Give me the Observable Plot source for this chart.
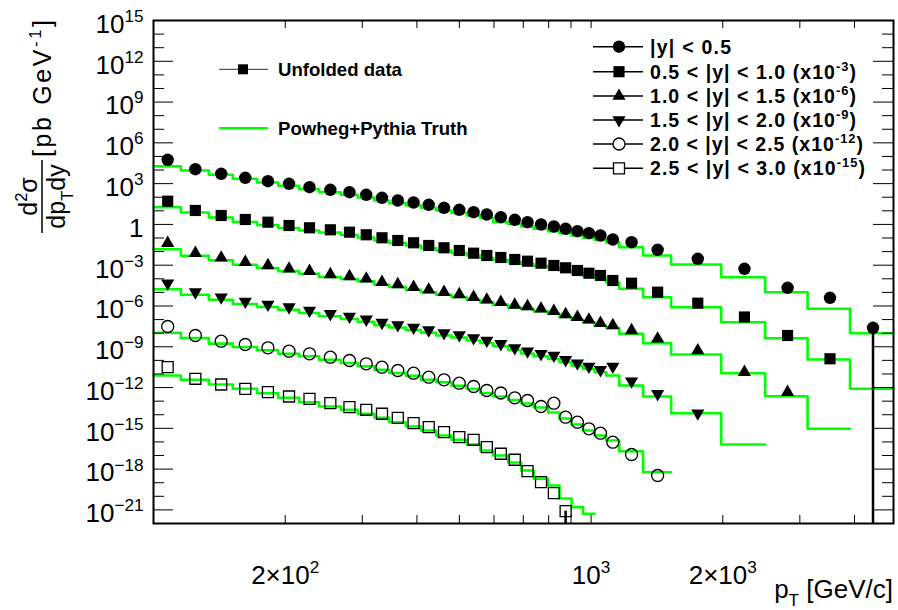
<!DOCTYPE html>
<html><head><meta charset="utf-8">
<script src="https://cdn.jsdelivr.net/npm/d3@7"></script>
<script src="https://cdn.jsdelivr.net/npm/@observablehq/plot@0.6"></script>
<style>
body{margin:0;background:#fff;}
svg text{font-family:"Liberation Sans",Arial,Helvetica,sans-serif;}
</style></head><body><div id="chart"></div>
<script>
// ---- data ----
const ptEdges = [100, 115.5, 133.8, 151.8, 172.4, 192.8, 215.3, 239.2, 268, 292.9, 319.8, 345.8, 377.5, 408.5, 442.7, 479.8, 519.9, 558, 597.5, 646.4, 692.2, 739.4, 797.6, 846.9, 902.5, 958.8, 1018.8, 1082.7, 1160, 1315, 1524, 1983, 2500, 3125, 3907, 4911];

const seriesNames = ["|y| < 0.5", "0.5 < |y| < 1.0", "1.0 < |y| < 1.5", "1.5 < |y| < 2.0", "2.0 < |y| < 2.5", "2.5 < |y| < 3.0"];
const scaleExponents = [0, -3, -6, -9, -12, -15];

const data0 = [5.68e4, 1.15e4, 5.30e3, 2.69e3, 1.51e3, 973, 547, 352, 234, 151, 90.8, 57.5, 41.0, 27.8, 16.7, 11.9, 7.93, 5.37, 3.40, 2.19, 1.46, 0.986, 0.703, 0.476, 0.317, 0.226, 0.153, 0.0778, 0.0492, 0.0136, 2.96e-3, 5.43e-4, 2.18e-5, 4.01e-6, 2.49e-8];
const data1 = [5.11e4, 1.06e4, 4.54e3, 2.31e3, 1.46e3, 834, 565, 403, 268, 173, 104, 65.8, 44.6, 28.2, 19.1, 12.1, 7.66, 5.18, 3.69, 2.63, 1.97, 1.41, 0.953, 0.645, 0.408, 0.258, 0.175, 0.0750, 0.0475, 0.0104, 1.61e-3, 1.55e-4, 6.76e-6, 1.31e-7, null];
const data2 = [4.16e4, 7.66e3, 3.51e3, 1.67e3, 953, 545, 363, 208, 148, 100, 56.4, 38.2, 24.2, 15.6, 10.4, 7.01, 4.44, 2.86, 1.90, 1.19, 0.919, 0.622, 0.415, 0.237, 0.150, 0.0966, 0.0543, 0.0368, 0.0158, 3.86e-3, 5.32e-4, 1.35e-5, 4.56e-7, null, null];
const data3 = [4.75e4, 1.04e4, 4.44e3, 2.14e3, 1.29e3, 817, 467, 267, 169, 105, 59.2, 40.0, 26.2, 16.6, 10.3, 7.36, 4.43, 2.90, 1.66, 0.813, 0.473, 0.305, 0.229, 0.110, 0.0619, 0.0355, 0.0203, 0.0355, 2.94e-3, 3.48e-4, 1.30e-5, null, null, null, null];
const data4 = [3.10e4, 6.76e3, 2.58e3, 1.47e3, 841, 473, 305, 171, 97.9, 56.0, 31.5, 18.0, 11.4, 5.79, 3.72, 2.09, 1.20, 0.608, 0.398, 0.177, 0.112, 0.0405, 0.0708, 6.61e-3, 2.83e-3, 9.27e-4, 4.40e-4, 9.57e-5, 1.19e-5, 3.40e-7, null, null, null, null, null];
const data5 = [3.15e4, 4.42e3, 1.68e3, 811, 456, 220, 149, 70.8, 36.0, 23.2, 11.8, 5.97, 2.39, 1.22, 0.521, 0.224, 0.144, 0.0411, 0.0135, 4.88e-3, 7.06e-4, 1.10e-4, 1.70e-5, 8.07e-7, null, null, null, null, null, null, null, null, null, null, null];

const truth0 = [1.92e4, 9.26e3, 4.47e3, 2.27e3, 1.21e3, 694, 390, 234, 151, 95.5, 57.5, 36.4, 24.7, 16.7, 10.6, 7.16, 4.54, 3.08, 1.51, 1.08, 0.703, 0.476, 0.317, 0.226, 0.153, 0.104, 0.0740, 0.0492, 0.0211, 5.17e-3, 1.13e-3, 1.31e-4, 1.03e-5, 6.22e-7, 9.98e-9];
const truth1 = [1.85e4, 7.53e3, 3.24e3, 1.51e3, 908, 546, 357, 255, 167, 109, 65.8, 43.1, 28.2, 18.5, 12.1, 7.91, 5.18, 3.39, 2.42, 1.72, 1.23, 0.875, 0.624, 0.408, 0.267, 0.175, 0.115, 0.0535, 0.0184, 4.44e-3, 8.15e-4, 6.43e-5, 4.28e-6, 1.16e-7, 8.11e-10];
const truth2 = [1.51e4, 5.01e3, 2.30e3, 1.09e3, 624, 356, 238, 136, 96.8, 65.6, 36.9, 25.0, 15.8, 10.2, 6.78, 4.59, 2.90, 1.87, 1.25, 0.776, 0.601, 0.407, 0.272, 0.155, 0.0982, 0.0632, 0.0356, 0.0241, 9.02e-3, 1.84e-3, 2.70e-4, 1.14e-5, 2.32e-7, 9.27e-10, null];
const truth3 = [1.72e4, 6.78e3, 2.90e3, 1.40e3, 843, 535, 305, 175, 111, 68.9, 38.7, 26.2, 17.2, 10.9, 6.76, 4.82, 2.90, 1.90, 1.08, 0.579, 0.321, 0.200, 0.126, 0.0723, 0.0406, 0.0232, 0.0133, 7.71e-3, 1.42e-3, 2.20e-4, 1.30e-5, 6.50e-8, null, null, null];
const truth4 = [1.07e4, 4.43e3, 1.69e3, 964, 551, 310, 200, 112, 64.1, 36.6, 20.6, 11.8, 7.46, 3.79, 2.44, 1.37, 0.783, 0.398, 0.220, 0.122, 0.0673, 0.0342, 0.0147, 5.30e-3, 1.92e-3, 6.95e-4, 2.98e-4, 1.28e-4, 2.08e-5, 5.94e-7, null, null, null, null, null];
const truth5 = [7.73e3, 3.72e3, 1.68e3, 811, 385, 177, 83.8, 40.5, 23.2, 11.8, 5.97, 2.84, 1.37, 0.695, 0.298, 0.144, 0.0650, 0.0235, 0.0101, 3.08e-3, 7.96e-4, 1.95e-4, 6.27e-5, 6.92e-6, 1.59e-6, 5.19e-7, null, null, null, null, null, null, null, null, null];

// points whose lower error bar reaches below the frame
const errorToFloor = [{series: 0, bin: 34}, {series: 5, bin: 23}];

const xTickValues = [200, 300, 400, 500, 600, 700, 800, 900, 1000, 2000, 3000, 4000];
const xTickLabels = [{v: 200, label: "2×10^{2}"}, {v: 1000, label: "10^{3}"}, {v: 2000, label: "2×10^{3}"}];
const yTickExponents = d3.range(-22, 16);
const yLabelExponents = [15, 12, 9, 6, 3, 0, -3, -6, -9, -12, -15, -18, -21];

// ---- build tables ----
const dataSets = [data0, data1, data2, data3, data4, data5];
const truthSets = [truth0, truth1, truth2, truth3, truth4, truth5];
const points = [], truthPts = [];
dataSets.forEach((arr, s) => arr.forEach((v, i) => {
  if (v != null) points.push({s, pt: (ptEdges[i] + ptEdges[i + 1]) / 2, v: v * 10 ** scaleExponents[s]});
}));
truthSets.forEach((arr, s) => arr.forEach((v, i) => {
  if (v != null) {
    const y = v * 10 ** scaleExponents[s];
    truthPts.push({s, pt: ptEdges[i], v: y}, {s, pt: ptEdges[i + 1], v: y});
  }
}));
const errRows = errorToFloor.map(({series, bin}) => ({
  pt: (ptEdges[bin] + ptEdges[bin + 1]) / 2,
  v: dataSets[series][bin] * 10 ** scaleExponents[series]
}));

const triDown = {draw(c, size) {
  const y = -Math.sqrt(size / (Math.sqrt(3) * 3)), s3 = Math.sqrt(3);
  c.moveTo(0, -y * 2); c.lineTo(-s3 * y, y); c.lineTo(s3 * y, y); c.closePath();
}};
const markers = [
  {symbol: "circle", r: 6.2, fill: "black", stroke: "none"},
  {symbol: "square", r: 6.3, fill: "black", stroke: "none"},
  {symbol: "triangle", r: 4.9, fill: "black", stroke: "none"},
  {symbol: triDown, r: 4.9, fill: "black", stroke: "none"},
  {symbol: "circle", r: 6.0, fill: "none", stroke: "black"},
  {symbol: "square", r: 6.2, fill: "none", stroke: "black"}
];

const W = 898, H = 610, ML = 153, MR = 5, MT = 20, MB = 87;
const PW = W - ML - MR, PH = H - MT - MB;
const major = yTickExponents.filter(e => e % 3 === 0).map(e => 10 ** e);
const minor = yTickExponents.filter(e => e % 3 !== 0).map(e => 10 ** e);

const plot = Plot.plot({
  width: W, height: H, marginLeft: ML, marginRight: MR, marginTop: MT, marginBottom: MB,
  x: {type: "log", domain: [100, 4911], axis: null},
  y: {type: "log", domain: [1e-22, 1e15], axis: null},
  style: {background: "white", overflow: "visible"},
  marks: [
    Plot.line(truthPts, {x: "pt", y: "v", z: "s", stroke: "#00ff00", strokeWidth: 2.6}),
    Plot.ruleX(errRows, {x: "pt", y1: "v", y2: 1e-22, stroke: "black", strokeWidth: 2.5, clip: true}),
    ...markers.map((m, s) => Plot.dot(points.filter(d => d.s === s), {
      x: "pt", y: "v", symbol: m.symbol, r: m.r, fill: m.fill, stroke: m.stroke, strokeWidth: 1.3
    })),
    // ticks (inward, ROOT style)
    Plot.tickY(major, {y: d => d, insetRight: PW - 20, stroke: "black"}),
    Plot.tickY(minor, {y: d => d, insetRight: PW - 11, stroke: "black"}),
    Plot.tickY(major, {y: d => d, insetLeft: PW - 20, stroke: "black"}),
    Plot.tickY(minor, {y: d => d, insetLeft: PW - 11, stroke: "black"}),
    Plot.tickX(xTickValues, {x: d => d, insetTop: PH - 8, stroke: "black"}),
    Plot.tickX(xTickValues, {x: d => d, insetBottom: PH - 8, stroke: "black"}),
    Plot.frame({stroke: "black", strokeWidth: 2}),
    Plot.text(yLabelExponents, {y: d => 10 ** d, frameAnchor: "left", dx: -10, dy: 4, textAnchor: "end",
      text: d => d === 0 ? "1" : `10^{${String(d).replace("-", "\u2212")}}`, fontSize: 26, fill: "black"}),
    Plot.text(xTickLabels, {x: "v", frameAnchor: "bottom", dy: 60, textAnchor: "middle", text: "label", fontSize: 26, fill: "black"})
  ]
});
document.getElementById("chart").appendChild(plot);

// ---- rich text helper (super/subscripts) ----
function rich(el, str, base, subScale = 0.66) {
  const sel = d3.select(el); sel.text(null);
  const parts = str.split(/(\^\{[^}]*\}|_\{[^}]*\})/).filter(p => p !== "");
  let shift = 0;
  for (const p of parts) {
    let kind = 0, content = p;
    if (p.startsWith("^{")) { kind = -0.42; content = p.slice(2, -1); }
    else if (p.startsWith("_{")) { kind = 0.32; content = p.slice(2, -1); }
    const t = sel.append("tspan").text(content);
    const dy = (kind - shift) * base;
    if (dy) t.attr("dy", dy.toFixed(2));
    if (kind !== 0) t.attr("font-size", base * subScale);
    shift = kind;
  }
}
const svg = d3.select(plot);
svg.selectAll("text").each(function () {
  const s = this.textContent;
  if (s.includes("^{") || s.includes("_{")) rich(this, s, parseFloat(getComputedStyle(this).fontSize));
});

// ---- axis titles ----
const yt = svg.append("g").attr("transform", "translate(42,160) rotate(-90)").attr("fill", "black");
rich(yt.append("text").attr("x", -36.5).attr("y", -5).attr("text-anchor", "middle").attr("font-size", 25).node(), "d^{2}σ", 25);
rich(yt.append("text").attr("x", -36.5).attr("y", 23).attr("text-anchor", "middle").attr("font-size", 25).node(), "dp_{T}dy", 25);
yt.append("line").attr("x1", -73).attr("x2", 0).attr("y1", 0).attr("y2", 0).attr("stroke", "black").attr("stroke-width", 1.5);
const yu = yt.append("text").attr("x", 3).attr("y", 9).attr("text-anchor", "start").attr("font-size", 25).node();
rich(yu, "[pb GeV^{-1}]", 25);
yu.setAttribute("textLength", 137);

const xt = svg.append("text").attr("x", 893).attr("y", 598).attr("text-anchor", "end").attr("font-size", 26).attr("fill", "black").node();
rich(xt, "p_{T} [GeV/c]", 26);

// ---- legends ----
const leg = svg.append("g").attr("font-weight", "bold").attr("fill", "black").attr("text-anchor", "start");
const legY = [46.7, 71.7, 96, 120, 144, 168.3];
const legW = [81, 206, 206, 206, 213, 215];
const legSym = [d3.symbolCircle, d3.symbolSquare, d3.symbolTriangle, triDown, d3.symbolCircle, d3.symbolSquare];
markers.forEach((m, s) => {
  const y = legY[s];
  leg.append("line").attr("x1", 593).attr("x2", 643).attr("y1", y).attr("y2", y).attr("stroke", "black").attr("stroke-width", 1.6);
  leg.append("path").attr("transform", `translate(619,${y})`)
    .attr("d", d3.symbol(legSym[s], Math.PI * m.r * m.r)())
    .attr("fill", m.fill === "none" ? "white" : "black").attr("stroke", m.stroke === "none" ? "none" : "black").attr("stroke-width", 1.3);
  const label = s === 0 ? seriesNames[s] : `${seriesNames[s]} (x10^{${String(scaleExponents[s])}})`;
  const t = leg.append("text").attr("x", 650).attr("y", y + 7).attr("font-size", 19.5).node();
  rich(t, label, 19.5);
  t.setAttribute("textLength", legW[s]);
});
leg.append("line").attr("x1", 219).attr("x2", 268).attr("y1", 69.3).attr("y2", 69.3).attr("stroke", "#555").attr("stroke-width", 1.2);
leg.append("path").attr("transform", "translate(243,69.3)").attr("d", d3.symbol(d3.symbolSquare, 100)()).attr("fill", "black");
leg.append("text").attr("x", 278).attr("y", 75.8).attr("font-size", 18.6).text("Unfolded data");
leg.append("line").attr("x1", 219).attr("x2", 268).attr("y1", 128.3).attr("y2", 128.3).attr("stroke", "#00ff00").attr("stroke-width", 2.6);
leg.append("text").attr("x", 278).attr("y", 134.8).attr("font-size", 18.6).text("Powheg+Pythia Truth");
</script></body></html>
